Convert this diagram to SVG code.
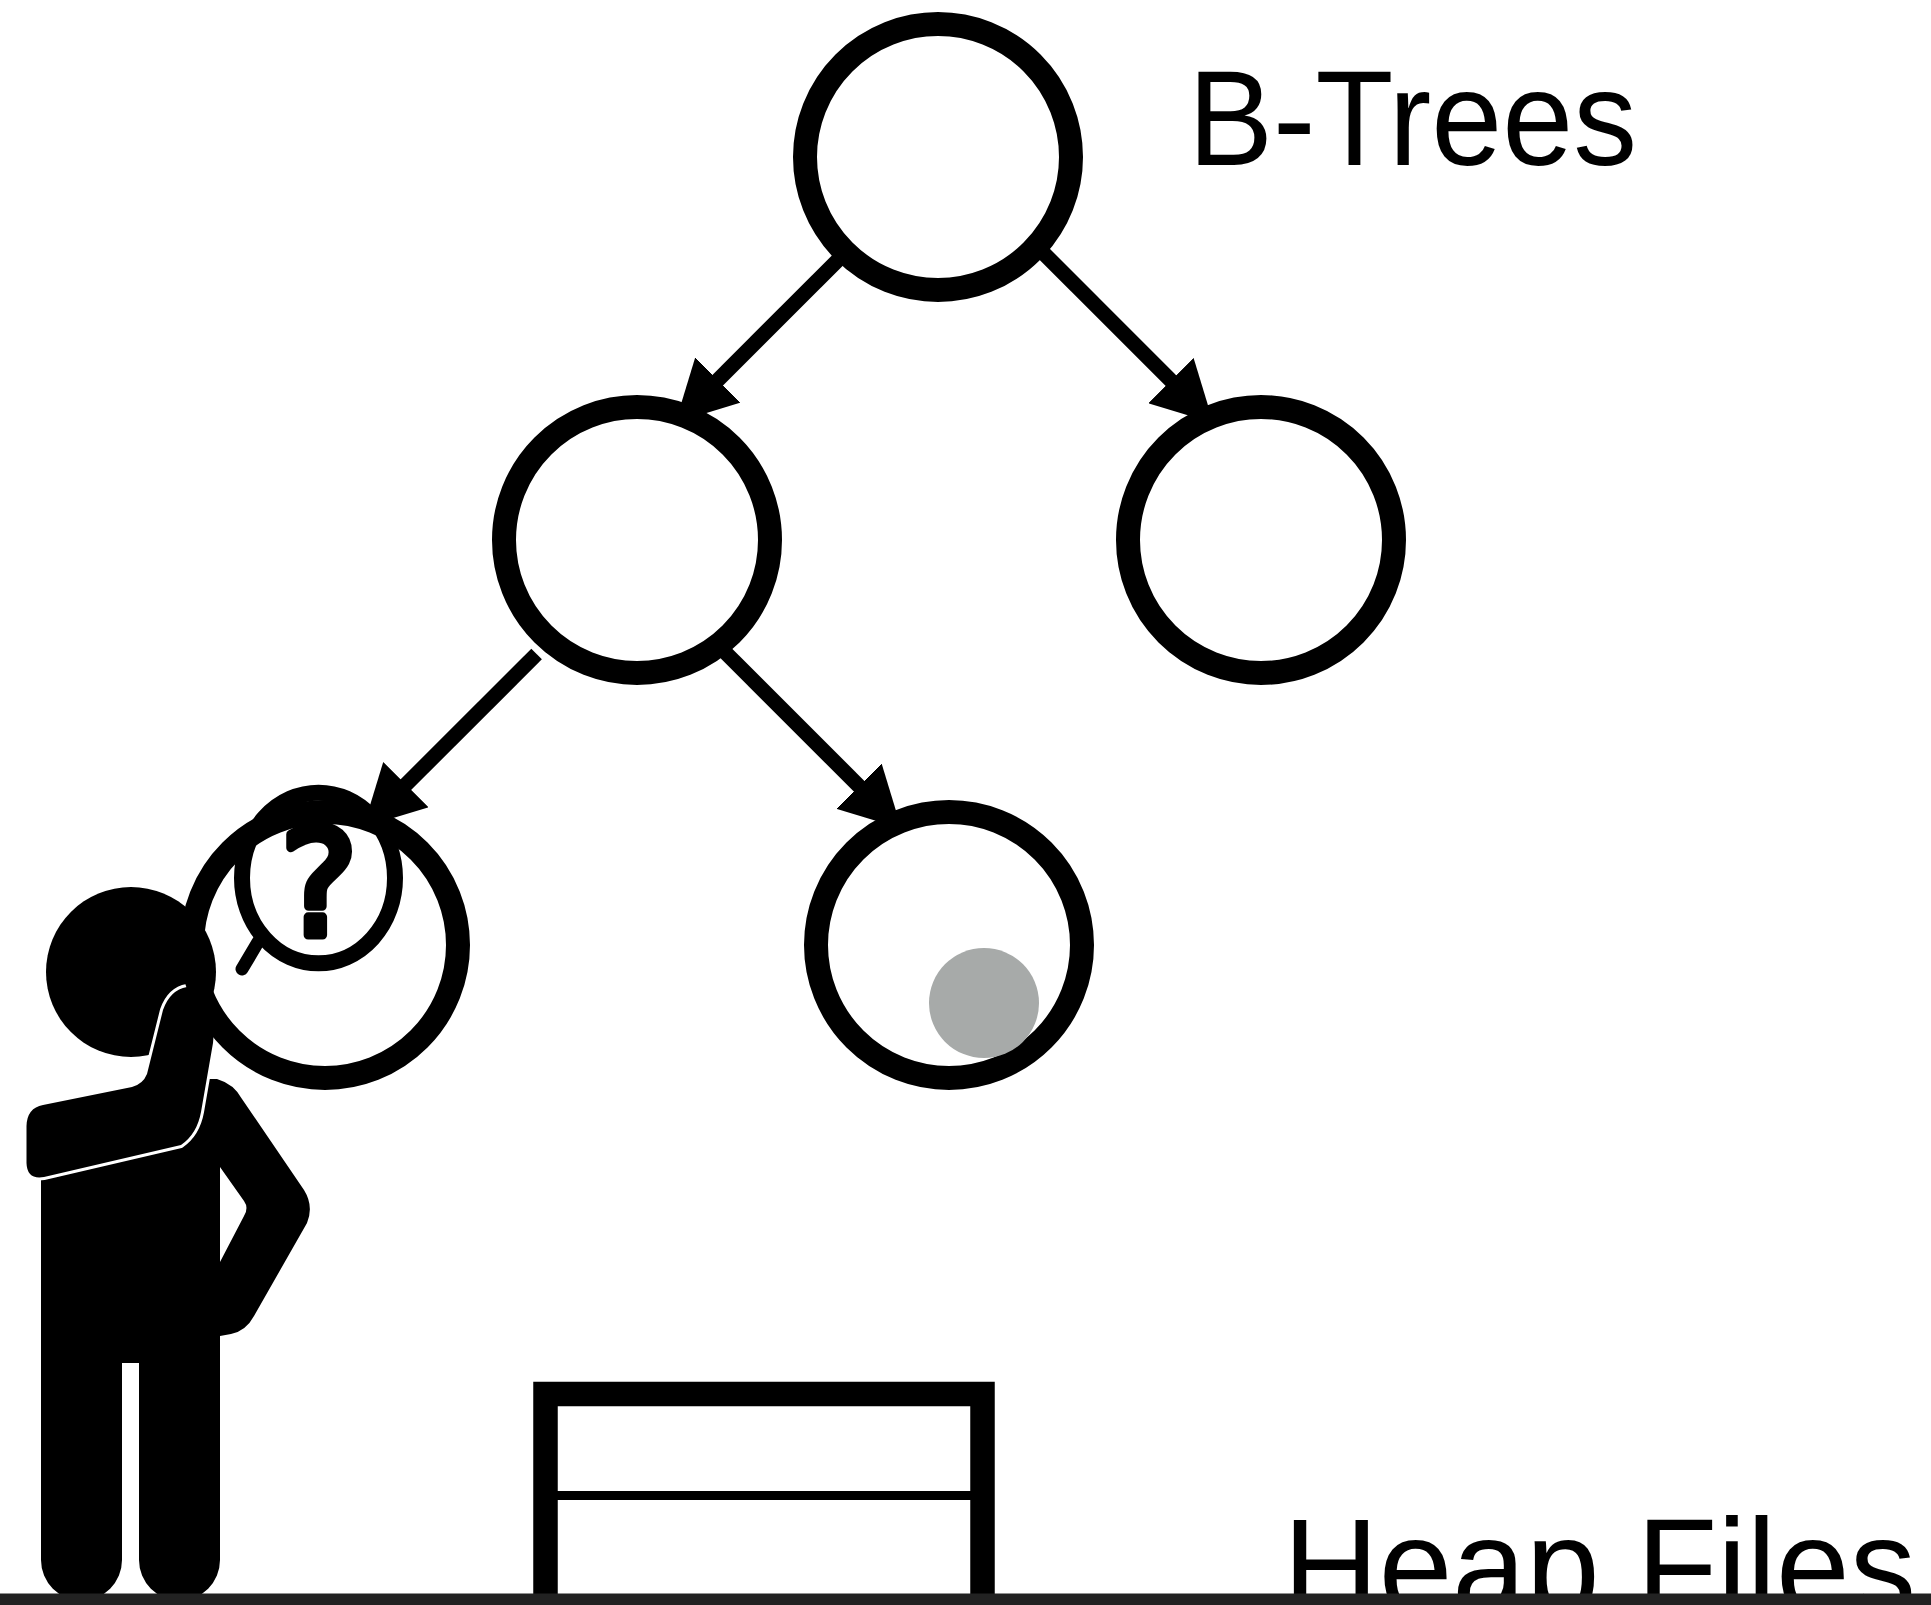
<svg xmlns="http://www.w3.org/2000/svg" width="1931" height="1605" viewBox="0 0 1931 1605">
  <style>
    .node { fill: none; stroke: #000; stroke-width: 24; }
    .edge { fill: none; stroke: #000; stroke-width: 15; marker-end: url(#ah); }
    .label { font-family: "Liberation Sans", Arial, Helvetica, sans-serif; font-size: 135px; fill: #000; }
  </style>
  <defs>
    <marker id="ah" markerUnits="userSpaceOnUse" markerWidth="60" markerHeight="64" viewBox="0 0 60 64" refX="20" refY="32" orient="auto">
      <path d="M0,0 L60,32 L0,64 Z" fill="#000"/>
    </marker>
  </defs>

  <rect width="1931" height="1605" fill="#fff"/>

  <!-- labels -->
  <text class="label" x="1188" y="165" textLength="449" lengthAdjust="spacingAndGlyphs">B-Trees</text>
  <text class="label" x="1283" y="1612.7" textLength="633" lengthAdjust="spacingAndGlyphs">Heap Files</text>

  <!-- heap file page -->
  <g id="heap-file">
    <rect x="545.5" y="1394" width="437" height="320" fill="none" stroke="#000" stroke-width="24.5"/>
    <rect x="557" y="1491" width="414" height="9" fill="#000"/>
  </g>

  <!-- puzzled person -->
  <g id="person">
    <circle cx="131" cy="972" r="85" fill="#000"/>
    <path fill="#000" d="M41,1150 L41,1560 A40.5,40.5 0 0 0 122,1560 L122,1363 L139,1363 L139,1560 A40.5,40.5 0 0 0 220,1560 L220,1336 L231,1334 Q246,1331 254,1316 L307,1223 Q314,1206 304,1190 L242,1099 Q234,1084 217,1079 L200,1079 L160,1100 Z"/>
    <path fill="#fff" d="M220,1167 L244,1201 Q249,1208 244,1216 L220,1262 Z"/>
    <path fill="#000" stroke="#fff" stroke-width="6" paint-order="stroke" stroke-linejoin="round"
          d="M26.5,1126 Q27,1108 43,1105 L132,1087 Q143,1084 147,1074 L163,1010 Q170,990 187,987 L205,990 L214,1030 L213,1043 L201,1112 Q197,1134 181,1145 L44,1177 Q27,1180 26.5,1163 Z"/>
  </g>

  <!-- tree nodes -->
  <g id="node-root"><circle class="node" cx="938" cy="157" r="133"/></g>
  <g id="node-left"><circle class="node" cx="637" cy="540" r="133"/></g>
  <g id="node-right"><circle class="node" cx="1261" cy="540" r="133"/></g>
  <g id="node-left-left"><circle class="node" cx="325" cy="945" r="133"/></g>
  <g id="node-left-right">
    <circle class="node" cx="949" cy="945" r="133"/>
    <circle cx="984" cy="1003" r="55" fill="#a7aaa9"/>
  </g>

  <!-- magnifying glass -->
  <g id="magnifier">
    <ellipse cx="318.5" cy="878" rx="76.5" ry="85.3" fill="none" stroke="#000" stroke-width="16"/>
    <line x1="258" y1="942" x2="242" y2="969" stroke="#000" stroke-width="13" stroke-linecap="round"/>
    <text x="319" y="935" font-family="DejaVu Sans, sans-serif" font-size="146" text-anchor="middle" fill="#000" stroke="#000" stroke-width="9" stroke-linejoin="round">?</text>
  </g>

  <!-- connectors -->
  <g id="edges">
    <path class="edge" d="M843,255 L703.7,394.2"/>
    <path class="edge" d="M1040,249.6 L1185.1,394.7"/>
    <path class="edge" d="M536.6,654 L391.7,798.8"/>
    <path class="edge" d="M721.4,648.5 L873.1,800.2"/>
  </g>

  <rect x="0" y="1593.5" width="1931" height="12" fill="#222"/>
</svg>
